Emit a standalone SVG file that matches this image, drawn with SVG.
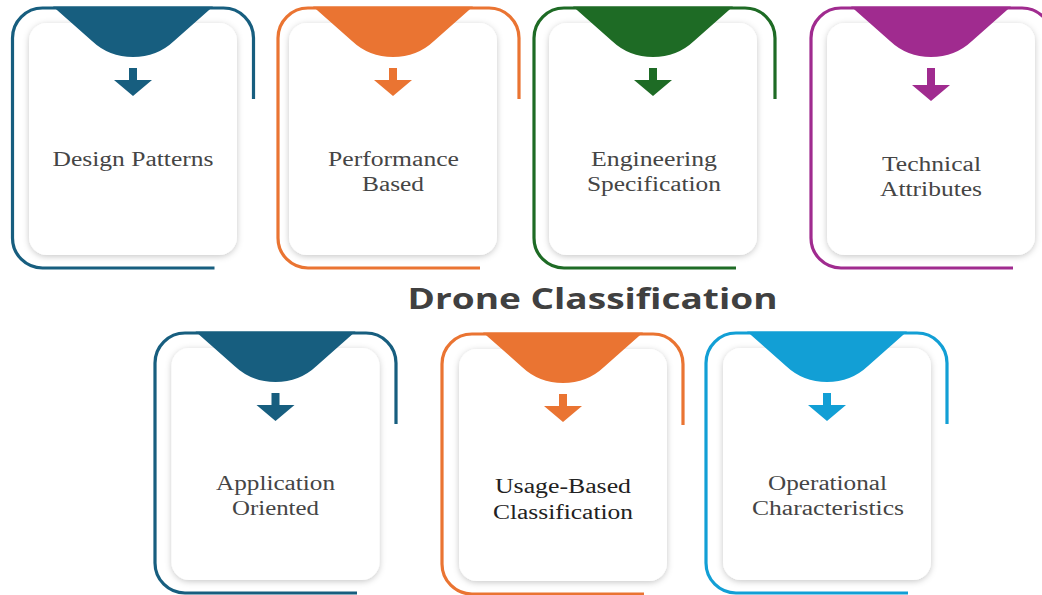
<svg xmlns="http://www.w3.org/2000/svg" xmlns:xlink="http://www.w3.org/1999/xlink" width="1042" height="595" viewBox="0 0 1042 595">
<style>
.bracket{fill:none;stroke:currentColor;stroke-width:3.2}
.cap,.arrow{fill:currentColor}
.panel{fill:#ffffff;filter:url(#sh)}
.lbl{font-family:"Liberation Serif","Times New Roman",serif;font-size:20px;fill:#454545;text-anchor:middle}
.title{font-family:"Open Sans","Noto Sans",sans-serif;font-weight:700;font-size:28px;fill:#404040;text-anchor:middle}
</style>
<defs>
<filter id="sh" x="-20%" y="-20%" width="140%" height="140%">
<feDropShadow dx="0" dy="1.5" stdDeviation="3" flood-color="#000" flood-opacity="0.22"/>
</filter>
<path id="bracket" class="bracket" d="M241,91 V30 A30,30 0 0 0 211,0 H30 A30,30 0 0 0 0,30 V230 A30,30 0 0 0 30,260 H202"/>
<rect id="panel" class="panel" x="-104" y="15" width="208" height="232" rx="18"/>
<path id="cap" class="cap" d="M-80,-1.6 L-41,33 Q-24,49 0,49 Q24,49 41,33 L80,-1.6 Z"/>
<path id="arrow" class="arrow" d="M-4,60 H4 V72 H19 L0,88 L-19,72 H-4 Z"/>
<path id="arrow2" class="arrow" d="M-4,60 H4 V77 H19 L0,93 L-19,77 H-4 Z"/>
</defs>
<rect width="1042" height="595" fill="#ffffff"/>
<g id="connectors"></g>

<g id="node-design" style="color:#175E7F">
<use xlink:href="#bracket" x="12.5" y="8"/>
<use xlink:href="#panel" x="133" y="8"/>
<use xlink:href="#cap" x="133" y="8"/>
<use xlink:href="#arrow" x="133" y="8"/>
<text class="lbl" x="133" y="166" textLength="161" lengthAdjust="spacingAndGlyphs">Design Patterns</text>
</g>

<g id="node-performance" style="color:#EA7432">
<use xlink:href="#bracket" x="278" y="8"/>
<use xlink:href="#panel" x="393" y="8"/>
<use xlink:href="#cap" x="393" y="8"/>
<use xlink:href="#arrow" x="393" y="8"/>
<text class="lbl" x="393.5" y="166" textLength="131" lengthAdjust="spacingAndGlyphs">Performance</text>
<text class="lbl" x="393" y="191" textLength="62" lengthAdjust="spacingAndGlyphs">Based</text>
</g>

<g id="node-engineering" style="color:#1E6B25">
<use xlink:href="#bracket" x="534" y="8"/>
<use xlink:href="#panel" x="653" y="8"/>
<use xlink:href="#cap" x="653" y="8"/>
<use xlink:href="#arrow" x="653" y="8"/>
<text class="lbl" x="654" y="166" textLength="126" lengthAdjust="spacingAndGlyphs">Engineering</text>
<text class="lbl" x="654" y="191" textLength="134" lengthAdjust="spacingAndGlyphs">Specification</text>
</g>

<g id="node-technical" style="color:#A02B8F">
<use xlink:href="#bracket" x="811" y="8"/>
<use xlink:href="#panel" x="931" y="8"/>
<use xlink:href="#cap" x="931" y="8"/>
<use xlink:href="#arrow2" x="931" y="8"/>
<text class="lbl" x="931.5" y="171" textLength="99" lengthAdjust="spacingAndGlyphs">Technical</text>
<text class="lbl" x="931" y="196" textLength="102" lengthAdjust="spacingAndGlyphs">Attributes</text>
</g>

<text id="title" class="title" x="592.5" y="309" textLength="370" lengthAdjust="spacingAndGlyphs">Drone Classification</text>

<g id="node-application" style="color:#175E7F">
<use xlink:href="#bracket" x="155" y="333"/>
<use xlink:href="#panel" x="275.5" y="333"/>
<use xlink:href="#cap" x="275.5" y="333"/>
<use xlink:href="#arrow" x="275.5" y="333"/>
<text class="lbl" x="275.5" y="490" textLength="119" lengthAdjust="spacingAndGlyphs">Application</text>
<text class="lbl" x="275.5" y="515" textLength="87" lengthAdjust="spacingAndGlyphs">Oriented</text>
</g>

<g id="node-usage" style="color:#EA7432">
<use xlink:href="#bracket" x="442" y="334"/>
<use xlink:href="#panel" x="563" y="334"/>
<use xlink:href="#cap" x="563" y="334"/>
<use xlink:href="#arrow" x="563" y="334"/>
<text class="lbl" x="563" y="493" textLength="136" lengthAdjust="spacingAndGlyphs" style="fill:#222222">Usage-Based</text>
<text class="lbl" x="563" y="519" textLength="140" lengthAdjust="spacingAndGlyphs" style="fill:#222222">Classification</text>
</g>

<g id="node-operational" style="color:#129FD5">
<use xlink:href="#bracket" x="706" y="333"/>
<use xlink:href="#panel" x="827" y="333"/>
<use xlink:href="#cap" x="827" y="333"/>
<use xlink:href="#arrow" x="827" y="333"/>
<text class="lbl" x="827.5" y="490" textLength="119" lengthAdjust="spacingAndGlyphs">Operational</text>
<text class="lbl" x="828" y="515" textLength="152" lengthAdjust="spacingAndGlyphs">Characteristics</text>
</g>
</svg>
